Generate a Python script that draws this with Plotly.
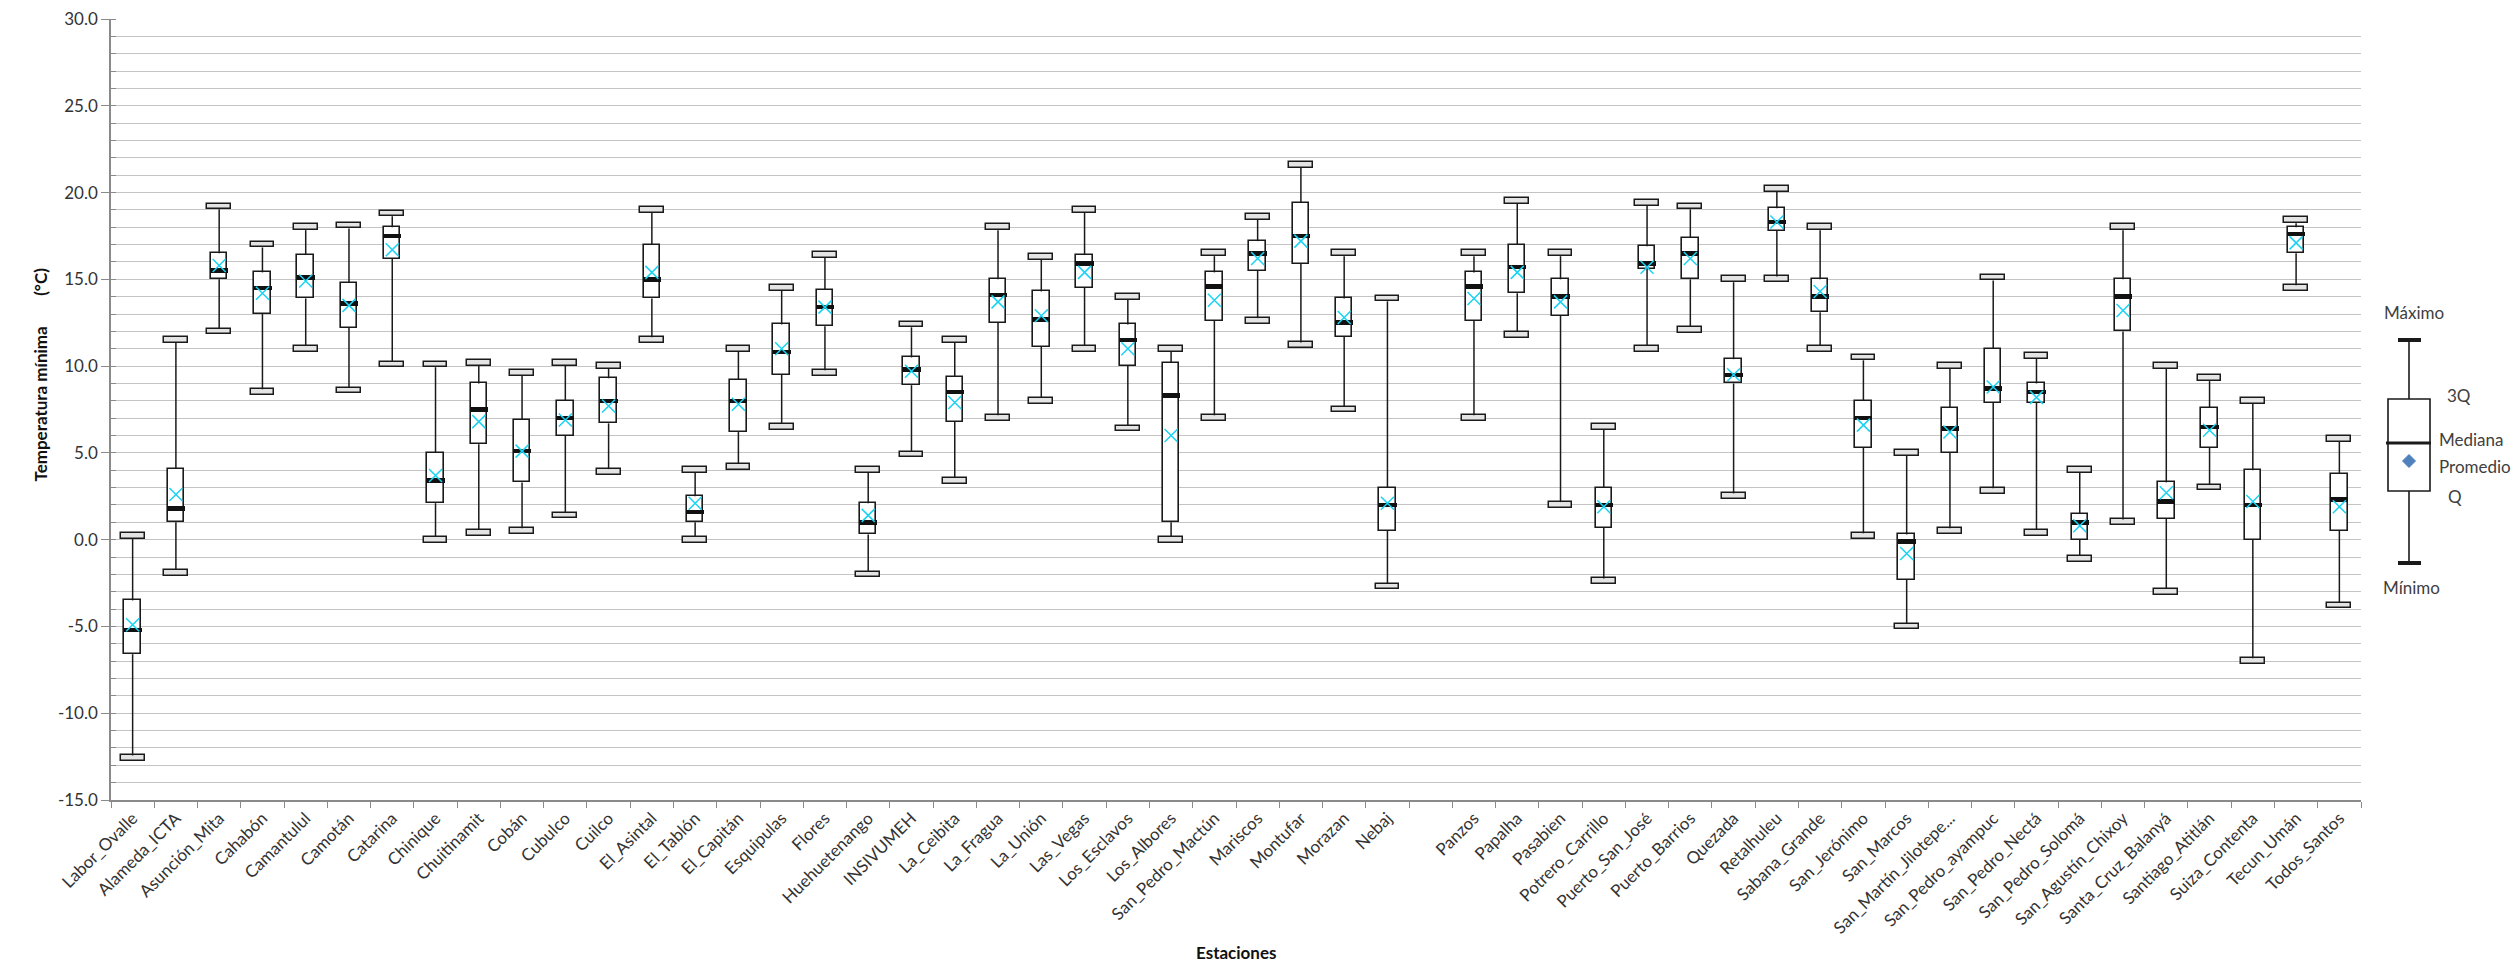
import plotly.graph_objects as go

# ---------------- data ----------------
estaciones = [
    "Labor_Ovalle", "Alameda_ICTA", "Asunción_Mita", "Cahabón", "Camantulul", "Camotán",
    "Catarina", "Chinique", "Chuitinamit", "Cobán", "Cubulco", "Cuilco", "El_Asintal",
    "El_Tablón", "El_Capitán", "Esquipulas", "Flores", "Huehuetenango", "INSIVUMEH",
    "La_Ceibita", "La_Fragua", "La_Unión", "Las_Vegas", "Los_Esclavos", "Los_Albores",
    "San_Pedro_Mactún", "Mariscos", "Montufar", "Morazan", "Nebaj", "",
    "Panzos", "Papalha", "Pasabien", "Potrero_Carrillo", "Puerto_San_José",
    "Puerto_Barrios", "Quezada", "Retalhuleu", "Sabana_Grande", "San_Jerónimo",
    "San_Marcos", "San_Martín_Jilotepe...", "San_Pedro_ayampuc", "San_Pedro_Nectá",
    "San_Pedro_Solomá", "San_Agustín_Chixoy", "Santa_Cruz_Balanyá", "Santiago_Atitlán",
    "Suiza_Contenta", "Tecun_Umán", "Todos_Santos",
]

minimo = [-12.6, -1.9, 12.0, 8.5, 11.0, 8.6, 10.1, 0.0, 0.4, 0.5, 1.4, 3.9, 11.5,
          0.0, 4.2, 6.5, 9.6, -2.0, 4.9, 3.4, 7.0, 8.0, 11.0, 6.4, 0.0,
          7.0, 12.6, 11.2, 7.5, -2.7, None,
          7.0, 11.8, 2.0, -2.4, 11.0, 12.1, 2.5, 15.0, 11.0, 0.2,
          -5.0, 0.5, 2.8, 0.4, -1.1, 1.0, -3.0, 3.0, -7.0, 14.5, -3.8]
cuartil1 = [-6.6, 1.0, 15.0, 13.0, 13.9, 12.2, 16.2, 2.1, 5.5, 3.3, 6.0, 6.7, 13.9,
            1.0, 6.2, 9.5, 12.3, 0.3, 8.9, 6.8, 12.5, 11.1, 14.5, 10.0, 1.0,
            12.6, 15.5, 15.9, 11.7, 0.5, None,
            12.6, 14.2, 12.9, 0.7, 15.6, 15.0, 9.0, 17.8, 13.1, 5.3,
            -2.3, 5.0, 7.9, 7.9, 0.0, 12.0, 1.2, 5.3, 0.0, 16.5, 0.5]
mediana = [-5.2, 1.8, 15.5, 14.5, 15.1, 13.6, 17.5, 3.4, 7.5, 5.1, 7.0, 8.0, 15.0,
           1.6, 8.0, 10.8, 13.4, 1.0, 9.8, 8.5, 14.1, 12.7, 15.9, 11.5, 8.3,
           14.6, 16.5, 17.5, 12.5, 2.0, None,
           14.6, 15.7, 14.0, 2.0, 15.9, 16.5, 9.5, 18.3, 14.0, 7.0,
           -0.1, 6.4, 8.7, 8.5, 1.0, 14.0, 2.2, 6.5, 2.0, 17.6, 2.3]
cuartil3 = [-3.5, 4.1, 16.5, 15.4, 16.4, 14.8, 18.0, 5.0, 9.0, 6.9, 8.0, 9.3, 17.0,
            2.5, 9.2, 12.4, 14.4, 2.1, 10.5, 9.4, 15.0, 14.3, 16.4, 12.4, 10.2,
            15.4, 17.2, 19.4, 13.9, 3.0, None,
            15.4, 17.0, 15.0, 3.0, 16.9, 17.4, 10.4, 19.1, 15.0, 8.0,
            0.3, 7.6, 11.0, 9.0, 1.5, 15.0, 3.3, 7.6, 4.0, 18.0, 3.8]
maximo = [0.2, 11.5, 19.2, 17.0, 18.0, 18.1, 18.8, 10.1, 10.2, 9.6, 10.2, 10.0, 19.0,
          4.0, 11.0, 14.5, 16.4, 4.0, 12.4, 11.5, 18.0, 16.3, 19.0, 14.0, 11.0,
          16.5, 18.6, 21.6, 16.5, 13.9, None,
          16.5, 19.5, 16.5, 6.5, 19.4, 19.2, 15.0, 20.2, 18.0, 10.5,
          5.0, 10.0, 15.1, 10.6, 4.0, 18.0, 10.0, 9.3, 8.0, 18.4, 5.8]
promedio = [-4.9, 2.6, 15.8, 14.2, 14.9, 13.5, 16.7, 3.7, 6.8, 5.1, 6.9, 7.7, 15.4,
            2.1, 7.8, 11.0, 13.4, 1.4, 9.7, 7.9, 13.7, 12.9, 15.4, 11.0, 6.0,
            13.8, 16.2, 17.2, 12.8, 2.1, None,
            13.9, 15.4, 13.7, 1.9, 15.7, 16.2, 9.5, 18.3, 14.3, 6.6,
            -0.8, 6.2, 8.8, 8.2, 0.8, 13.2, 2.7, 6.3, 2.2, 17.1, 1.9]

y_ticks = [-15, -10, -5, 0, 5, 10, 15, 20, 25, 30]
y_ticklabels = ["-15.0", "-10.0", "-5.0", "0.0", "5.0", "10.0", "15.0", "20.0", "25.0", "30.0"]

legend_labels = ["Máximo", "3Q", "Mediana", "Promedio", "Q", "Mínimo"]

# ---------------- layout geometry ----------------
W, H = 2520, 969
L, R, T, B = 103, 2353, 11, 792  # plot area in pixels

def px_x(px):
    return (px - L) / (R - L)

def px_y(py):
    return (B - py) / (B - T)

idx = list(range(len(estaciones)))
CAP_H = 0.33     # cap rectangle height (data units)
MED_H = 0.26     # median bar thickness (data units)

xs = [i for i in idx if minimo[i] is not None]

fig = go.Figure()

# boxes (Q1 -> Q3)
fig.add_trace(go.Bar(
    x=xs, base=[cuartil1[i] for i in xs], y=[cuartil3[i] - cuartil1[i] for i in xs],
    width=0.38, marker=dict(color="white", line=dict(color="#1a1a1a", width=1.6)),
    hoverinfo="skip", showlegend=False))

# caps at max and min
for arr in (maximo, minimo):
    fig.add_trace(go.Bar(
        x=xs, base=[arr[i] - CAP_H / 2 for i in xs], y=[CAP_H] * len(xs),
        width=0.55, marker=dict(color="#e4e4e4", line=dict(color="#1a1a1a", width=1.5)),
        hoverinfo="skip", showlegend=False))

# median thick line
fig.add_trace(go.Bar(
    x=xs, base=[mediana[i] - MED_H / 2 for i in xs], y=[MED_H] * len(xs),
    width=0.42, marker=dict(color="#111111", line=dict(width=0)),
    hoverinfo="skip", showlegend=False))

# whiskers
wx, wy = [], []
for i in xs:
    wx += [i, i, None, i, i, None]
    wy += [cuartil3[i], maximo[i] - CAP_H / 2, None, cuartil1[i], minimo[i] + CAP_H / 2, None]
fig.add_trace(go.Scatter(x=wx, y=wy, mode="lines", line=dict(color="#1a1a1a", width=1.5),
                         hoverinfo="skip", showlegend=False))

# mean markers
fig.add_trace(go.Scatter(
    x=xs, y=[promedio[i] for i in xs], mode="markers",
    marker=dict(symbol="x-thin-open", size=13, line=dict(color="#607890", width=1.5)),
    hoverinfo="skip", showlegend=False))

font_family = "Lato, 'Open Sans', sans-serif"
txt_col = "#333333"

fig.update_layout(
    width=W, height=H,
    margin=dict(l=L, r=W - R, t=T, b=H - B, autoexpand=False),
    paper_bgcolor="white", plot_bgcolor="white",
    barmode="overlay", bargap=0,
    font=dict(family=font_family, size=17, color=txt_col),
    xaxis=dict(
        range=[-0.5, len(estaciones) - 0.5],
        tickmode="array", tickvals=idx, ticktext=estaciones, tickangle=-45,
        ticks="", showgrid=False, zeroline=False,
        showline=True, linecolor="#8a8a8a", linewidth=1.5,
        tickfont=dict(size=17, color=txt_col), ticklabeloverflow="allow",
        minor=dict(tickmode="linear", tick0=-0.5, dtick=1, ticks="outside",
                   ticklen=6, tickcolor="#8a8a8a", tickwidth=1.3, showgrid=False),
    ),
    yaxis=dict(
        range=[-15, 30], tickmode="array", tickvals=y_ticks, ticktext=y_ticklabels,
        ticks="outside", ticklen=8, tickcolor="#8a8a8a", tickwidth=1.3,
        showgrid=True, gridcolor="#c4c4c4", gridwidth=1.4, zeroline=False,
        showline=True, linecolor="#8a8a8a", linewidth=1.5,
        tickfont=dict(size=17, color=txt_col), ticklabeloverflow="allow",
        minor=dict(dtick=1, tick0=0, showgrid=True, gridcolor="#c4c4c4", gridwidth=1.4,
                   ticks="inside", ticklen=5, tickcolor="#8a8a8a"),
    ),
)

annotations = [
    dict(text="<b>Temperatura mínima</b>\u00a0\u00a0\u00a0\u00a0\u00a0\u00a0\u00a0<b>(°C)</b>",
         x=px_x(20), y=px_y(367), xref="paper", yref="paper", textangle=-90,
         showarrow=False, font=dict(size=17, color="#111111")),
    dict(text="<b>Estaciones</b>", x=px_x(1228), y=px_y(957), xref="paper", yref="paper",
         showarrow=False, font=dict(size=17, color="#111111")),
]

# ---------------- schematic legend (right) ----------------
lg = "#404040"
leg_pos = {
    "Máximo": (2406, 305, "center"),
    "3Q": (2437, 387, "left"),
    "Mediana": (2429, 431, "left"),
    "Promedio": (2429, 458, "left"),
    "Q": (2438, 488, "left"),
    "Mínimo": (2403, 579, "center"),
}
for lab in legend_labels:
    px, py, anc = leg_pos[lab]
    annotations.append(dict(text=lab, x=px_x(px), y=px_y(py), xref="paper", yref="paper",
                            xanchor=anc, yanchor="middle", showarrow=False,
                            font=dict(size=17, color=lg)))

shapes = []
def seg(x0, y0, x1, y1, w=1.6, c="#1a1a1a"):
    shapes.append(dict(type="line", xref="paper", yref="paper",
                       x0=px_x(x0), y0=px_y(y0), x1=px_x(x1), y1=px_y(y1),
                       line=dict(color=c, width=w)))

seg(2390, 332, 2413, 332, w=4)        # max cap
seg(2401, 332, 2401, 391)             # upper whisker
shapes.append(dict(type="rect", xref="paper", yref="paper",
                   x0=px_x(2380), y0=px_y(483), x1=px_x(2422), y1=px_y(391),
                   line=dict(color="#1a1a1a", width=1.6), fillcolor="white"))
seg(2378, 435, 2423, 435, w=3.2)      # median
seg(2401, 483, 2401, 555)             # lower whisker
seg(2390, 555, 2413, 555, w=4)        # min cap
seg(2518, 0, 2518, 969, w=1.5, c="#9a9a9a")  # outer frame line

# diamond (Promedio symbol)
cx, cy, d = 2401, 453, 6.5
path = "M {} {} L {} {} L {} {} L {} {} Z".format(
    px_x(cx), px_y(cy - d), px_x(cx + d), px_y(cy),
    px_x(cx), px_y(cy + d), px_x(cx - d), px_y(cy))
shapes.append(dict(type="path", xref="paper", yref="paper", path=path,
                   fillcolor="#4f81bd", line=dict(color="#4f81bd", width=1)))

fig.update_layout(annotations=annotations, shapes=shapes)
fig.write_html("out.html")
